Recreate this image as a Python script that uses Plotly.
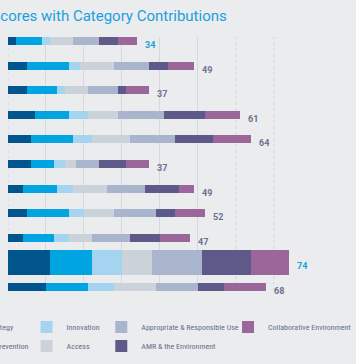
import plotly.graph_objects as go

# ---- data ----
rows = ["Row 1", "Row 2", "Row 3", "Row 4", "Row 5", "Row 6",
        "Row 7", "Row 8", "Row 9", "Row 10", "Row 11"]
totals = [34, 49, 37, 61, 64, 37, 49, 52, 47, 74, 68]

category_names = ["Global Strategy", "Infection Prevention", "Innovation", "Access",
                  "Appropriate & Responsible Use", "AMR & the Environment",
                  "Collaborative Environment"]
strategy = [2, 5, 5, 7, 6, 6, 4, 5, 4, 11, 10]
prevention = [7, 11, 8, 9, 11, 6, 9, 11, 8, 11, 11]
innovation = [2, 3, 2, 5, 5, 3, 4, 4, 4, 8, 7]
access = [6, 9, 6, 8, 10, 3, 9, 8, 6, 8, 11]
appropriate = [7, 9, 8, 12, 12, 6, 10, 11, 10, 13, 11]
environment = [5, 5, 2, 11, 10, 7, 9, 5, 8, 13, 7]
collaborative = [5, 7, 6, 9, 10, 6, 4, 8, 8, 10, 11]

grid_solid = [10, 20, 30, 40, 50]
grid_dotted = [0, 60, 70]

# ---- style ----
colors = ["#00558c", "#00a4e1", "#a5d4f1", "#cbd2d9", "#a9b5cd", "#5d5a89", "#9b6699"]
legend_ids = ["legend", "legend", "legend2", "legend2", "legend3", "legend3", "legend4"]
BG = "#ebecee"
BLUE = "#1aa0de"
GREY_LABEL = "#6c7190"
LEGEND_TEXT = "#5f6f8c"
FONT = "Roboto"
NARROW = "Liberation Sans Narrow, Roboto Condensed, DejaVu Sans Condensed, Roboto"

series = [strategy, prevention, innovation, access, appropriate, environment, collaborative]
max_total = max(totals)
min_total = min(totals)
widths = [1.0 if t == max_total else 0.33 for t in totals]

fig = go.Figure()
for name, vals, col, lg in zip(category_names, series, colors, legend_ids):
    fig.add_trace(go.Bar(
        y=rows, x=vals, name=name, orientation="h",
        marker=dict(color=col, line=dict(width=0)),
        width=widths, legend=lg,
        hoverinfo="skip",
    ))

bar_ends = [sum(v) for v in zip(*series)]
for r, t, end in zip(rows, totals, bar_ends):
    fig.add_annotation(
        x=end, y=r, text=str(t), showarrow=False,
        xanchor="left", yanchor="middle", xshift=6, yshift=-4,
        font=dict(family=FONT, size=9, weight="bold",
                  color=BLUE if t in (max_total, min_total) else GREY_LABEL),
    )

for v in grid_dotted:
    fig.add_vline(x=v, line=dict(color="#cfd3d9", width=1, dash="dot"), layer="below")

fig.add_annotation(
    text="Overall Scores with Category Contributions",
    xref="paper", yref="paper", x=0.655, y=1.083,
    xanchor="right", yanchor="middle", showarrow=False,
    font=dict(family=FONT, size=15, color=BLUE),
)

leg_common = dict(orientation="v", yanchor="top", y=-0.085, xanchor="left",
                  bgcolor="rgba(0,0,0,0)", tracegroupgap=0, traceorder="normal",
                  font=dict(family=NARROW, size=8, color=LEGEND_TEXT))

fig.update_layout(
    width=356, height=364,
    margin=dict(l=8, r=10, t=37, b=73, autoexpand=False),
    paper_bgcolor=BG, plot_bgcolor=BG,
    barmode="stack",
    showlegend=True,
    legend=dict(leg_common, x=-0.245),
    legend2=dict(leg_common, x=0.055),
    legend3=dict(leg_common, x=0.276),
    legend4=dict(leg_common, x=0.651),
    xaxis=dict(range=[0, 89], tickvals=grid_solid, showticklabels=False,
               showgrid=True, gridcolor="#d5d8de", gridwidth=1,
               zeroline=False, showline=False, fixedrange=True),
    yaxis=dict(categoryorder="array", categoryarray=rows,
               range=[10.17, -0.17], showticklabels=False,
               showgrid=False, zeroline=False, showline=False, fixedrange=True),
)

fig.write_html("out.html", config={"displayModeBar": False},
               post_script="document.body.style.margin='0';")
